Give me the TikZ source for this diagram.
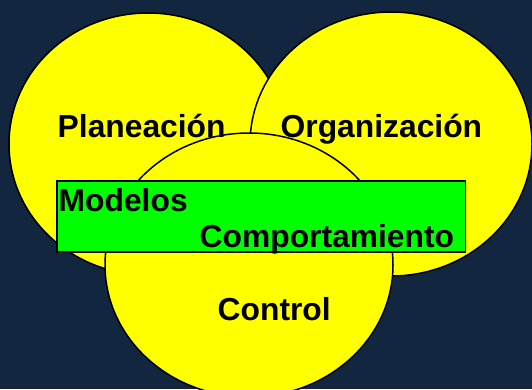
\documentclass[tikz,border=0pt]{standalone}
\usepackage{fontspec}
\setmainfont{Liberation Sans}
\definecolor{fondo}{RGB}{18,38,63}
\definecolor{amarillo}{RGB}{255,255,0}
\definecolor{verde}{RGB}{0,255,0}
\tikzset{
  area/.style={draw=black, line width=1.5pt, fill=amarillo},
  caja/.style={draw=black, line width=1.7pt, fill=verde},
  etiqueta/.style={anchor=base west, inner sep=0pt, font=\bfseries\fontsize{31.8}{36}\selectfont}
}
\begin{document}
\begin{tikzpicture}[x=1pt, y=-1pt]

 %fondo
 \useasboundingbox (0,0) rectangle (532,389);
 \clip (0,0) rectangle (532,389);
 \fill[fondo] (0,0) rectangle (532,389);

 %areas
 \foreach \cx/\cy/\rx/\ry in {148/144/139/131, 391/144/141/132, 249/265/144/132} {
   \draw[area] (\cx,\cy) ellipse [x radius=\rx, y radius=\ry];
 }

 %caja
 \draw[caja] (57,181) rectangle (465.5,252);

 %textos
 \node[etiqueta] (plan) at (57.5,137) {Planeación};
 \node[etiqueta] (orga) at (280.5,137) {Organización};
 \node[etiqueta] (mode) at (58.5,211) {Modelos};
 \node[etiqueta] (comp) at (199.5,247) {Comportamiento};
 \node[etiqueta] (cont) at (217.5,320) {Control};

\end{tikzpicture}
\end{document}
